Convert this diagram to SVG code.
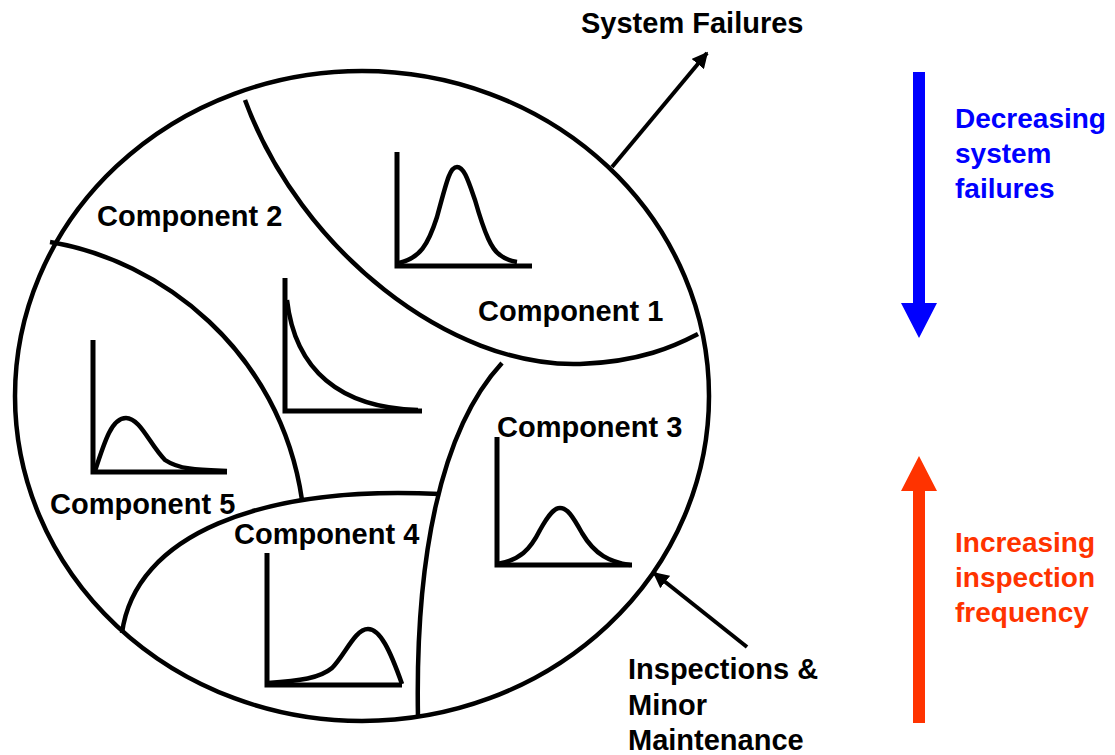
<svg xmlns="http://www.w3.org/2000/svg" width="1115" height="755" viewBox="0 0 1115 755">
<defs>
<style>
.ln{fill:none;stroke:#000;stroke-width:4.5}
.ax{fill:none;stroke:#000;stroke-width:5}
.cv{fill:none;stroke:#000;stroke-width:4.5}
.lb{font-family:"Liberation Sans",Arial,sans-serif;font-weight:bold;font-size:29px;fill:#000}
.bl{font-family:"Liberation Sans",Arial,sans-serif;font-weight:bold;font-size:28px;fill:#0000FF}
.rd{font-family:"Liberation Sans",Arial,sans-serif;font-weight:bold;font-size:28px;fill:#FF3300}
</style>
<marker id="ah" viewBox="0 0 10 10" refX="9" refY="5" markerWidth="4" markerHeight="4" orient="auto" markerUnits="strokeWidth">
<path d="M0,0 L10,5 L0,10 z" fill="#000"/>
</marker>
</defs>
<rect width="1115" height="755" fill="#fff"/>
<g id="system">
<ellipse cx="362" cy="396" rx="347" ry="325" class="ln"/>
<path class="ln" d="M245,100 C300,250 450,368 580,364 C640,362 675,346 698,334"/>
<path class="ln" d="M50,242 C160,260 280,350 302,500"/>
<path class="ln" d="M122,633 C135,535 260,485 440,494"/>
<path class="ln" d="M502,363 C440,430 415,560 418,718"/>
</g>
<g id="component1">
<path class="ax" d="M397,152 V266 H532"/>
<path class="cv" d="M399,263 C420,258 428,245 437,217 C447,180 450,167 457,167 C464,167 468,180 475,200 C485,235 492,250 500,255 C505,259 510,261 517,262"/>
<text class="lb" x="478" y="321">Component 1</text>
</g>
<g id="component2">
<path class="ax" d="M285,278 V411 H422"/>
<path class="cv" d="M287,300 C295,370 340,408 418,410"/>
<text class="lb" x="97" y="226">Component 2</text>
</g>
<g id="component3">
<path class="ax" d="M497,437 V565 H632"/>
<path class="cv" d="M497,564 C520,560 530,550 540,530 C550,512 555,508 560,508 C567,508 572,515 582,533 C595,555 610,562 630,565"/>
<text class="lb" x="497" y="437">Component 3</text>
</g>
<g id="component4">
<path class="ax" d="M267,553 V685 H402"/>
<path class="cv" d="M268,683 C300,681 320,678 332,668 C345,655 355,629 368,629 C380,629 390,650 402,684"/>
<text class="lb" x="234" y="544">Component 4</text>
</g>
<g id="component5">
<path class="ax" d="M93,340 V472 H227"/>
<path class="cv" d="M95,471 C105,440 112,418 126,418 C140,418 150,445 165,460 C180,470 200,470 227,471"/>
<text class="lb" x="50" y="514">Component 5</text>
</g>
<g id="connectors">
<line x1="612" y1="167" x2="707" y2="53" stroke="#000" stroke-width="4" marker-end="url(#ah)"/>
<line x1="747" y1="647" x2="654" y2="573" stroke="#000" stroke-width="4" marker-end="url(#ah)"/>
<path d="M913,72 H925 V303 H937 L919,338 L901,303 H913 Z" fill="#0000FF"/>
<path d="M913,723 H925 V491 H937 L919,456 L901,491 H913 Z" fill="#FF3300"/>
</g>
<g id="labels">
<text class="lb" x="628" y="679">Inspections &amp;</text>
<text class="lb" x="628" y="715">Minor</text>
<text class="lb" x="628" y="750">Maintenance</text>
<text class="lb" x="581" y="33">System Failures</text>
<text class="bl" x="955" y="128">Decreasing</text>
<text class="bl" x="955" y="163">system</text>
<text class="bl" x="955" y="198">failures</text>
<text class="rd" x="955" y="552">Increasing</text>
<text class="rd" x="955" y="587">inspection</text>
<text class="rd" x="955" y="622">frequency</text>
</g>
</svg>
